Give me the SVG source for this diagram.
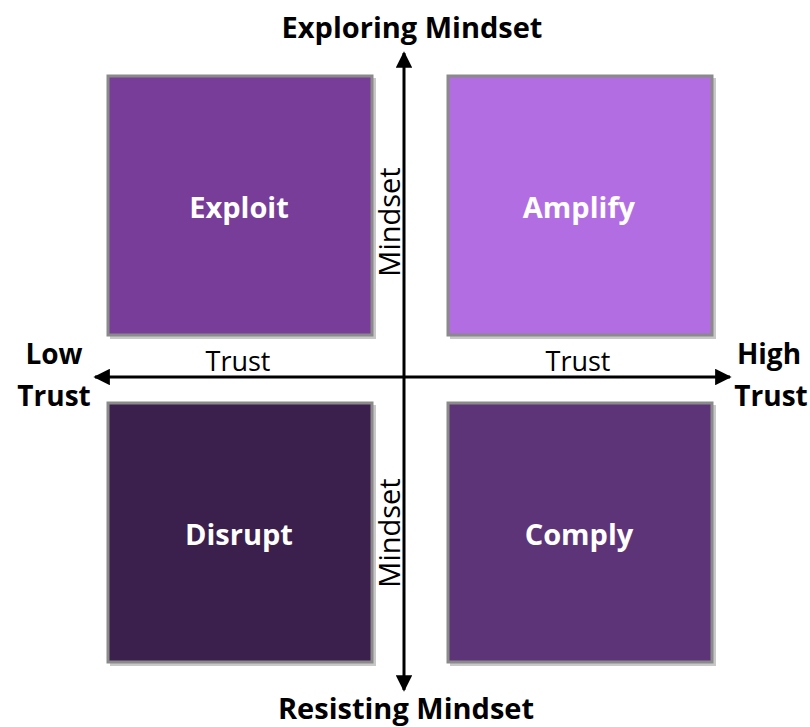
<svg xmlns="http://www.w3.org/2000/svg" width="810" height="727" viewBox="0 0 810 727">
  <style>
    .box { stroke: #8a8a8a; stroke-width: 3; }
    .shadow { fill: #c8c8c8; }
    .label { font-family: "Open Sans", "Liberation Sans", sans-serif; font-weight: bold; font-size: 29px; fill: #ffffff; text-anchor: middle; }
    .axis-title { font-family: "Open Sans", "Liberation Sans", sans-serif; font-weight: bold; font-size: 28px; fill: #000000; text-anchor: middle; }
    .axis-main { font-size: 29px; }
    .axis-name { font-family: "Open Sans", "Liberation Sans", sans-serif; font-size: 27px; fill: #000000; text-anchor: middle; }
    .axis-vert { font-size: 29px; }
    .axis { stroke: #000000; stroke-width: 3; fill: none; }
  </style>
  <defs>
    <marker id="arrow" viewBox="0 0 10 10" refX="9" refY="5" markerWidth="5.5" markerHeight="5.5" orient="auto" markerUnits="strokeWidth">
      <path d="M0,0 L10,5 L0,10 Z" fill="#000000"/>
    </marker>
  </defs>
  <rect width="810" height="727" fill="#ffffff"/>

  <g id="exploit">
    <rect class="shadow" x="110" y="78" width="266" height="261"/>
    <rect class="box" x="108" y="76" width="264" height="259" fill="#773d98"/>
    <text class="label" x="239" y="218">Exploit</text>
  </g>
  <g id="amplify">
    <rect class="shadow" x="450" y="78" width="266" height="261"/>
    <rect class="box" x="448" y="76" width="264" height="259" fill="#b26de3"/>
    <text class="label" x="579" y="218">Amplify</text>
  </g>
  <g id="disrupt">
    <rect class="shadow" x="110" y="405" width="266" height="261"/>
    <rect class="box" x="108" y="403" width="264" height="259" fill="#3b1f4c"/>
    <text class="label" x="239" y="545">Disrupt</text>
  </g>
  <g id="comply">
    <rect class="shadow" x="450" y="405" width="266" height="261"/>
    <rect class="box" x="448" y="403" width="264" height="259" fill="#5e3479"/>
    <text class="label" x="579" y="545">Comply</text>
  </g>

  <g id="connectors">
    <line class="axis" x1="404" y1="377" x2="404" y2="53" marker-end="url(#arrow)"/>
    <line class="axis" x1="404" y1="377" x2="404" y2="690" marker-end="url(#arrow)"/>
    <line class="axis" x1="404" y1="377" x2="95" y2="377" marker-end="url(#arrow)"/>
    <line class="axis" x1="404" y1="377" x2="730" y2="377" marker-end="url(#arrow)"/>
  </g>

  <g id="axis-labels">
    <text class="axis-title axis-main" x="412" y="38">Exploring Mindset</text>
    <text class="axis-title axis-main" x="406" y="719">Resisting Mindset</text>
    <text class="axis-title" x="54" y="364">Low</text>
    <text class="axis-title" x="54" y="406">Trust</text>
    <text class="axis-title" x="769" y="364">High</text>
    <text class="axis-title" x="771" y="406">Trust</text>
    <text class="axis-name" x="238" y="371">Trust</text>
    <text class="axis-name" x="578" y="371">Trust</text>
    <text class="axis-name axis-vert" transform="translate(400,222) rotate(-90)">Mindset</text>
    <text class="axis-name axis-vert" transform="translate(400,533) rotate(-90)">Mindset</text>
  </g>
</svg>
